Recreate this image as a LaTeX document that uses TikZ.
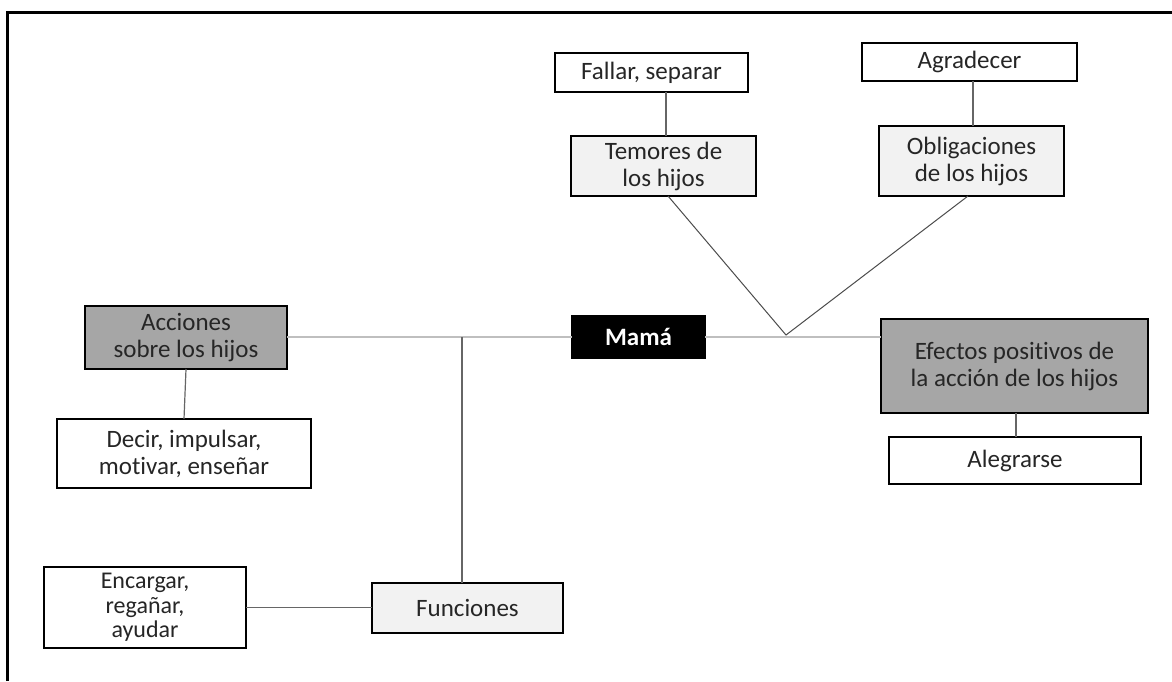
\documentclass[tikz,border=0pt]{standalone}
\usepackage{fontspec}
\setmainfont{Carlito}[Ligatures=NoCommon]
\begin{document}
\begin{tikzpicture}[x=1pt,y=-1pt,
  box/.style={draw=black,line width=1.3pt,inner sep=0pt,outer sep=0pt,align=center,font=\fontsize{25}{27}\selectfont,text=black!85},
  wbox/.style={box,fill=white},
  lbox/.style={box,fill=black!5},
  gbox/.style={box,fill=black!35},
  kbox/.style={box,fill=black,text=white,font=\fontsize{25}{27}\selectfont\bfseries},
  mainline/.style={draw=black!25,line width=1.5pt},
  conn/.style={draw=black!60,line width=1.2pt}]
\useasboundingbox (0,0) rectangle (1172,681);
\fill[white] (0,0) rectangle (1172,681);
\draw[line width=3pt] (7.5,681) -- (7.5,12.5) -- (1172,12.5);
% nodes
\node[wbox,minimum width=193pt,minimum height=39pt] (fallar) at (651.5,72.5) {Fallar, separar};
\node[wbox,minimum width=215pt,minimum height=38pt] (agrad) at (969.5,62) {Agradecer};
\node[lbox,minimum width=185pt,minimum height=60pt] (temores) at (663.5,166) {Temores de\\los hijos};
\node[lbox,minimum width=185pt,minimum height=70pt] (oblig) at (971.5,161) {Obligaciones\\de los hijos};
\node[gbox,minimum width=202pt,minimum height=63pt] (acciones) at (186,337.5) {Acciones\\sobre los hijos};
\node[kbox,minimum width=133pt,minimum height=42pt] (mama) at (638.5,337) {Mamá};
\node[gbox,minimum width=267pt,minimum height=94pt] (efectos) at (1014.5,366) {Efectos positivos de\\la acción de los hijos};
\node[wbox,minimum width=252pt,minimum height=47pt] (alegr) at (1015,460.5) {Alegrarse};
\node[wbox,minimum width=254pt,minimum height=69pt] (decir) at (184,453.5) {Decir, impulsar,\\motivar, enseñar};
\node[lbox,minimum width=191pt,minimum height=50pt] (func) at (467.5,608) {Funciones};
\node[wbox,minimum width=202pt,minimum height=81pt,font=\fontsize{24}{24.5}\selectfont] (encar) at (145,607.5) {Encargar,\\regañar,\\ayudar};
\coordinate (j1) at (462,337);
\coordinate (v) at (786,335);
% connectors
\draw[mainline] (acciones.east |- mama.west) -- (mama.west);
\draw[mainline] (mama.east) -- (mama.east -| efectos.west);
\draw[conn] (j1) -- (j1 |- func.north);
\draw[conn] (acciones.south) -- (decir.north);
\draw[conn] (encar.east) -- (func.west |- encar.east);
\draw[conn] (fallar.south -| 666,0) -- (666,0 |- temores.north);
\draw[conn] (973,0 |- agrad.south) -- (973,0 |- oblig.north);
\draw[conn,draw=black!70,line width=1pt] (668,0 |- temores.south) -- (v) -- (968,0 |- oblig.south);
\draw[conn] (1016,0 |- efectos.south) -- (1016,0 |- alegr.north);
\end{tikzpicture}
\end{document}
